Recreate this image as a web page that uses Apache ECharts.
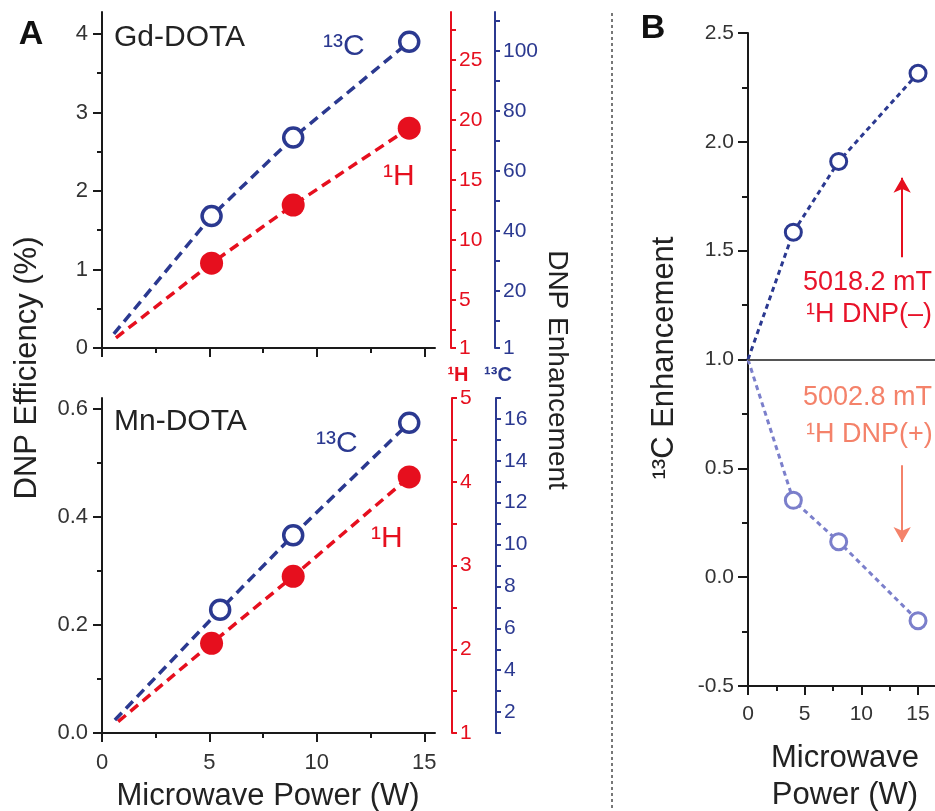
<!DOCTYPE html>
<html><head><meta charset="utf-8">
<script src="https://cdn.jsdelivr.net/npm/echarts@6/dist/echarts.min.js"></script>
<style>html,body{margin:0;padding:0;background:#fff}#c{width:935px;height:811px}</style>
</head><body><div id="c"></div>
<script>
// ---------- data ----------
const gdPower13C = [0.55, 5.1, 8.9, 14.3];
const gdEff13C   = [0.18, 1.68, 2.68, 3.9];
const gdPower1H  = [0.65, 5.1, 8.9, 14.3];
const gdEff1H    = [0.13, 1.08, 1.82, 2.8];
const mnPower13C = [0.6, 5.5, 8.9, 14.3];
const mnEff13C   = [0.024, 0.228, 0.366, 0.574];
const mnPower1H  = [0.75, 5.1, 8.9, 14.3];
const mnEff1H    = [0.021, 0.166, 0.29, 0.474];
const bPower     = [0, 4, 8, 15];
const bEnhMinus  = [1.0, 1.585, 1.91, 2.315];
const bEnhPlus   = [1.0, 0.353, 0.163, -0.2];

// ---------- tick labels ----------
const powerLabels = [0, 5, 10, 15];
const powerMinor  = [2.5, 7.5, 12.5];
const bPowerLabels = [0, 5, 10, 15];
const bPowerTicks  = [0, 5, 10, 15, 20];
const bPowerMinor  = [2.5, 7.5, 12.5, 17.5];
const gdEffLabels = [0, 1, 2, 3, 4];
const gdEffMinor  = [0.5, 1.5, 2.5, 3.5];
const mnEffLabels = [0, 0.2, 0.4, 0.6];
const mnEffMinor  = [0.1, 0.3, 0.5];
const gdHLabels = [1, 5, 10, 15, 20, 25];
const gdHTicks  = [1, 2.5, 5, 7.5, 10, 12.5, 15, 17.5, 20, 22.5, 25, 27.5];
const gdCLabels = [1, 20, 40, 60, 80, 100];
const gdCTicks  = [1, 10, 20, 30, 40, 50, 60, 70, 80, 90, 100, 110];
const mnHLabels = [1, 2, 3, 4, 5];
const mnHTicks  = [1, 1.5, 2, 2.5, 3, 3.5, 4, 4.5, 5];
const mnCLabels = [2, 4, 6, 8, 10, 12, 14, 16];
const mnCTicks  = [1, 2, 3, 4, 5, 6, 7, 8, 9, 10, 11, 12, 13, 14, 15, 16, 17];
const bEnhLabels = [-0.5, 0, 0.5, 1.0, 1.5, 2.0, 2.5];
const bEnhMinor  = [-0.25, 0.25, 0.75, 1.25, 1.75, 2.25];

const FONT = '"Liberation Sans", Arial, sans-serif';
const BLUE = '#2b3990', RED = '#e60f1e', LBLUE = '#7b7fcb', SALMON = '#f4826a', AX = '#1a1a1a', TXT = '#333';

function axis(o) {
  const a = {
    type: 'value', gridIndex: o.grid, min: o.min, max: o.max, position: o.pos, offset: o.offset || 0,
    axisLine: { show: o.line !== false, onZero: false, lineStyle: { color: o.color || AX, width: 2 } },
    axisTick: { show: true, inside: false, length: o.tickLen, customValues: o.ticks,
                lineStyle: { color: o.color || AX, width: 2 } },
    axisLabel: { show: false },
    splitLine: { show: false }, minorTick: { show: false }
  };
  if (o.labels) {
    a.axisLabel = { show: true, customValues: o.labels, color: o.labelColor || TXT,
      fontSize: o.fs, fontFamily: FONT, margin: o.margin };
    if (o.fmt) a.axisLabel.formatter = o.fmt;
  }
  return a;
}
const f1 = v => v.toFixed(1);

const xAxis = [
  axis({ grid: 0, min: 0, max: 15.5, pos: 'bottom', ticks: powerLabels, tickLen: 9 }),
  axis({ grid: 0, min: 0, max: 15.5, pos: 'bottom', ticks: powerMinor, tickLen: 5, line: false }),
  axis({ grid: 1, min: 0, max: 15.5, pos: 'bottom', ticks: powerLabels, tickLen: 9, labels: powerLabels, fs: 22, margin: 19 }),
  axis({ grid: 1, min: 0, max: 15.5, pos: 'bottom', ticks: powerMinor, tickLen: 5, line: false }),
  axis({ grid: 2, min: 0, max: 20, pos: 'bottom', ticks: bPowerTicks, tickLen: 9, labels: bPowerLabels, fs: 21, margin: 18 }),
  axis({ grid: 2, min: 0, max: 20, pos: 'bottom', ticks: bPowerMinor, tickLen: 5, line: false })
];
const yAxis = [
  axis({ grid: 0, min: 0, max: 4.28, pos: 'left', ticks: gdEffLabels, tickLen: 9, labels: gdEffLabels, fs: 22, margin: 14 }),
  axis({ grid: 0, min: 0, max: 4.28, pos: 'left', ticks: gdEffMinor, tickLen: 5, line: false }),
  axis({ grid: 0, min: 1, max: 29, pos: 'right', offset: 16, color: RED, ticks: gdHTicks, tickLen: 5, labels: gdHLabels, labelColor: RED, fs: 21, margin: 8 }),
  axis({ grid: 0, min: 1, max: 113, pos: 'right', offset: 60, color: BLUE, ticks: gdCTicks, tickLen: 5, labels: gdCLabels, labelColor: BLUE, fs: 21, margin: 8 }),
  axis({ grid: 1, min: 0, max: 0.62, pos: 'left', ticks: mnEffLabels, tickLen: 9, labels: mnEffLabels, fs: 22, margin: 14, fmt: f1 }),
  axis({ grid: 1, min: 0, max: 0.62, pos: 'left', ticks: mnEffMinor, tickLen: 5, line: false }),
  axis({ grid: 1, min: 1, max: 5, pos: 'right', offset: 17, color: RED, ticks: mnHTicks, tickLen: 5, labels: mnHLabels, labelColor: RED, fs: 21, margin: 8 }),
  axis({ grid: 1, min: 1, max: 17, pos: 'right', offset: 61, color: BLUE, ticks: mnCTicks, tickLen: 5, labels: mnCLabels, labelColor: BLUE, fs: 21, margin: 8 }),
  axis({ grid: 2, min: -0.5, max: 2.5, pos: 'left', ticks: bEnhLabels, tickLen: 10, labels: bEnhLabels, fs: 21, margin: 14, fmt: f1 }),
  axis({ grid: 2, min: -0.5, max: 2.5, pos: 'left', ticks: bEnhMinor, tickLen: 6, line: false })
];

function pts(xs, ys) {
  return xs.map((x, i) => i === 0 ? { value: [x, ys[i]], symbol: 'none' } : [x, ys[i]]);
}
function lineSeries(xi, yi, xs, ys, color, filled, size, width, dash, extra) {
  return Object.assign({
    type: 'line', xAxisIndex: xi, yAxisIndex: yi, data: pts(xs, ys),
    symbol: 'circle', symbolSize: size, silent: true, z: 3, clip: false,
    itemStyle: filled ? { color: color } : { color: '#fff', borderColor: color, borderWidth: width },
    lineStyle: { color: color, width: width, type: dash }
  }, extra || {});
}

const series = [
  lineSeries(0, 0, gdPower13C, gdEff13C, BLUE, false, 19, 3.5, [10, 6]),
  lineSeries(0, 0, gdPower1H, gdEff1H, RED, true, 23, 3.5, [10, 6]),
  lineSeries(2, 4, mnPower13C, mnEff13C, BLUE, false, 19, 3.5, [10, 6]),
  lineSeries(2, 4, mnPower1H, mnEff1H, RED, true, 23, 3.5, [10, 6]),
  lineSeries(4, 8, bPower, bEnhMinus, BLUE, false, 16, 3, [5, 4], {
    markLine: { silent: true, symbol: 'none', label: { show: false }, animation: false,
      data: [
        { yAxis: 1, lineStyle: { color: '#555', width: 2, type: 'solid' } },
        [{ coord: [13.6, 1.47], symbol: 'none', lineStyle: { color: RED, width: 2, type: 'solid' } },
         { coord: [13.6, 1.835], symbol: 'arrow', symbolSize: [13, 15] }]
      ] }
  }),
  lineSeries(4, 8, bPower, bEnhPlus, LBLUE, false, 16, 3, [5, 4], {
    markLine: { silent: true, symbol: 'none', label: { show: false }, animation: false,
      data: [
        [{ coord: [13.6, 0.514], symbol: 'none', lineStyle: { color: SALMON, width: 2, type: 'solid' } },
         { coord: [13.6, 0.162], symbol: 'arrow', symbolSize: [13, 15] }]
      ] }
  })
];

function txt(text, x, y, size, fill, opts) {
  opts = opts || {};
  return {
    type: 'text', x: x, y: y, rotation: opts.rot || 0, silent: true, z: 10,
    style: { text: text, x: 0, y: 0, fill: fill, fontSize: size, fontFamily: FONT,
      fontWeight: opts.bold ? 'bold' : 'normal', textAlign: opts.align || 'center', textVerticalAlign: 'middle' }
  };
}

const graphic = [
  { type: 'line', silent: true, shape: { x1: 612, y1: 13, x2: 612, y2: 811 },
    style: { stroke: '#777', lineWidth: 2, lineDash: [3, 3] } },
  txt('A', 31, 35, 34, '#111', { bold: true }),
  txt('B', 653, 29, 34, '#111', { bold: true }),
  txt('Gd-DOTA', 114, 38, 30, '#222', { align: 'left' }),
  txt('Mn-DOTA', 114, 422, 30, '#222', { align: 'left' }),
  txt('\u00B9\u00B3C', 323, 47, 30, BLUE, { align: 'left' }),
  txt('\u00B9H', 383, 177, 30, RED, { align: 'left' }),
  txt('\u00B9\u00B3C', 316, 444, 30, BLUE, { align: 'left' }),
  txt('\u00B9H', 371, 539, 30, RED, { align: 'left' }),
  txt('\u00B9H', 458, 375, 20, RED, { bold: true }),
  txt('\u00B9\u00B3C', 498, 375, 20, BLUE, { bold: true }),
  txt('DNP Efficiency (%)', 27, 368, 31, '#222', { rot: Math.PI / 2 }),
  txt('DNP Enhancement', 557, 370, 28, '#222', { rot: -Math.PI / 2 }),
  txt('Microwave Power (W)', 268, 796, 31, '#222'),
  txt('\u00B9\u00B3C Enhancement', 664, 358, 31, '#222', { rot: Math.PI / 2 }),
  txt('Microwave', 845, 758, 31, '#222'),
  txt('Power (W)', 845, 795, 31, '#222'),
  txt('5018.2 mT', 803, 283, 27, '#e8132a', { align: 'left' }),
  txt('\u00B9H DNP(\u2013)', 806, 315, 27, '#e8132a', { align: 'left' }),
  txt('5002.8 mT', 803, 398, 27, SALMON, { align: 'left' }),
  txt('\u00B9H DNP(+)', 806, 435, 27, SALMON, { align: 'left' })
];

const chart = echarts.init(document.getElementById('c'), null, { renderer: 'canvas' });
chart.setOption({
  animation: false,
  backgroundColor: '#fff',
  grid: [
    { left: 102, top: 12, width: 333, height: 336, outerBoundsMode: 'none', containLabel: false },
    { left: 102, top: 398, width: 333, height: 335, outerBoundsMode: 'none', containLabel: false },
    { left: 748, top: 33, width: 226.7, height: 653, outerBoundsMode: 'none', containLabel: false }
  ],
  xAxis: xAxis,
  yAxis: yAxis,
  series: series,
  graphic: graphic
});
</script></body></html>
